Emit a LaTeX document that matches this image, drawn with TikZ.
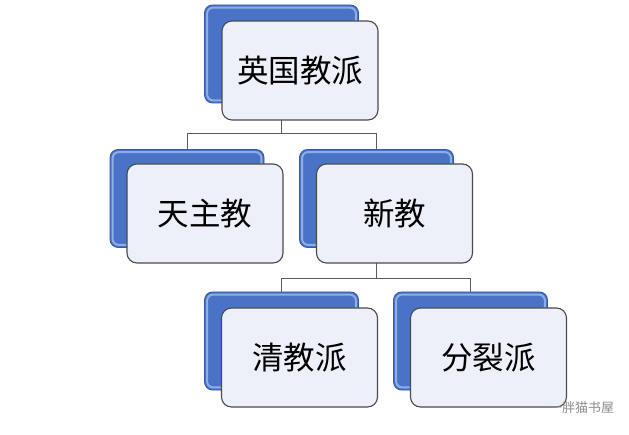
\documentclass[tikz,border=0pt]{standalone}
\usepackage{fontspec}
\newfontfamily\cjk{Noto Sans CJK SC}
\definecolor{bluefill}{HTML}{4A72C6}
\definecolor{bluerim}{HTML}{8EAEE6}
\definecolor{blueedge}{HTML}{3558A8}
\definecolor{whitefill}{HTML}{EDEFF9}
\definecolor{boxedge}{HTML}{4A4A4A}
\definecolor{linkcol}{HTML}{5A5A5A}
\begin{document}
\begin{tikzpicture}[x=1pt,y=-1pt,
  bluebox/.style={rectangle, rounded corners=8pt, minimum width=154pt, minimum height=98pt,
     inner sep=0pt, fill=bluefill, draw=blueedge, line width=0.8pt},
  whitebox/.style={rectangle, rounded corners=10pt, minimum width=156pt, minimum height=99pt,
     inner sep=0pt, fill=whitefill, draw=boxedge, line width=1.1pt,
     font=\cjk\fontsize{31.5}{36}\selectfont, text=black},
  link/.style={draw=linkcol, line width=0.9pt}]
\useasboundingbox (0,0) rectangle (629,435);
\fill[white] (0,0) rectangle (629,435);
% blue back boxes
\node[bluebox] (b1) at (281.5,54) {};
\node[bluebox] (b2) at (187,198.5) {};
\node[bluebox] (b3) at (376.5,198.5) {};
\node[bluebox] (b4) at (281.5,341) {};
\node[bluebox] (b5) at (470.5,341) {};
% rims
\foreach \b in {b1,b2,b3,b4,b5}{
  \draw[bluerim, line width=2pt, rounded corners=6pt]
    ([xshift=3pt,yshift=-3pt]\b.north west) rectangle ([xshift=-3pt,yshift=3pt]\b.south east);
}
% connectors
\coordinate (j1) at (281.5,133);
\coordinate (j2) at (376.5,278);
\draw[link] (b1.south) -- (b1.south |- j1) -| (b2.north);
\draw[link] (b1.south |- j1) -| (b3.north);
\draw[link] (b3.south) -- (b3.south |- j2) -| (b4.north);
\draw[link] (b3.south |- j2) -| (b5.north);
% front boxes
\node[whitebox] (w1) at (300,70.5) {英国教派};
\node[whitebox] (w2) at (205,213.5) {天主教};
\node[whitebox] (w3) at (394.5,213.5) {新教};
\node[whitebox] (w4) at (299.5,357.5) {清教派};
\node[whitebox] (w5) at (488.5,357.5) {分裂派};
% watermark
\node[font=\cjk\fontsize{13}{15}\selectfont, text=gray!90, anchor=west, inner sep=0pt] (wm) at (549,408) {一胖猫书屋};
\end{tikzpicture}
\end{document}
